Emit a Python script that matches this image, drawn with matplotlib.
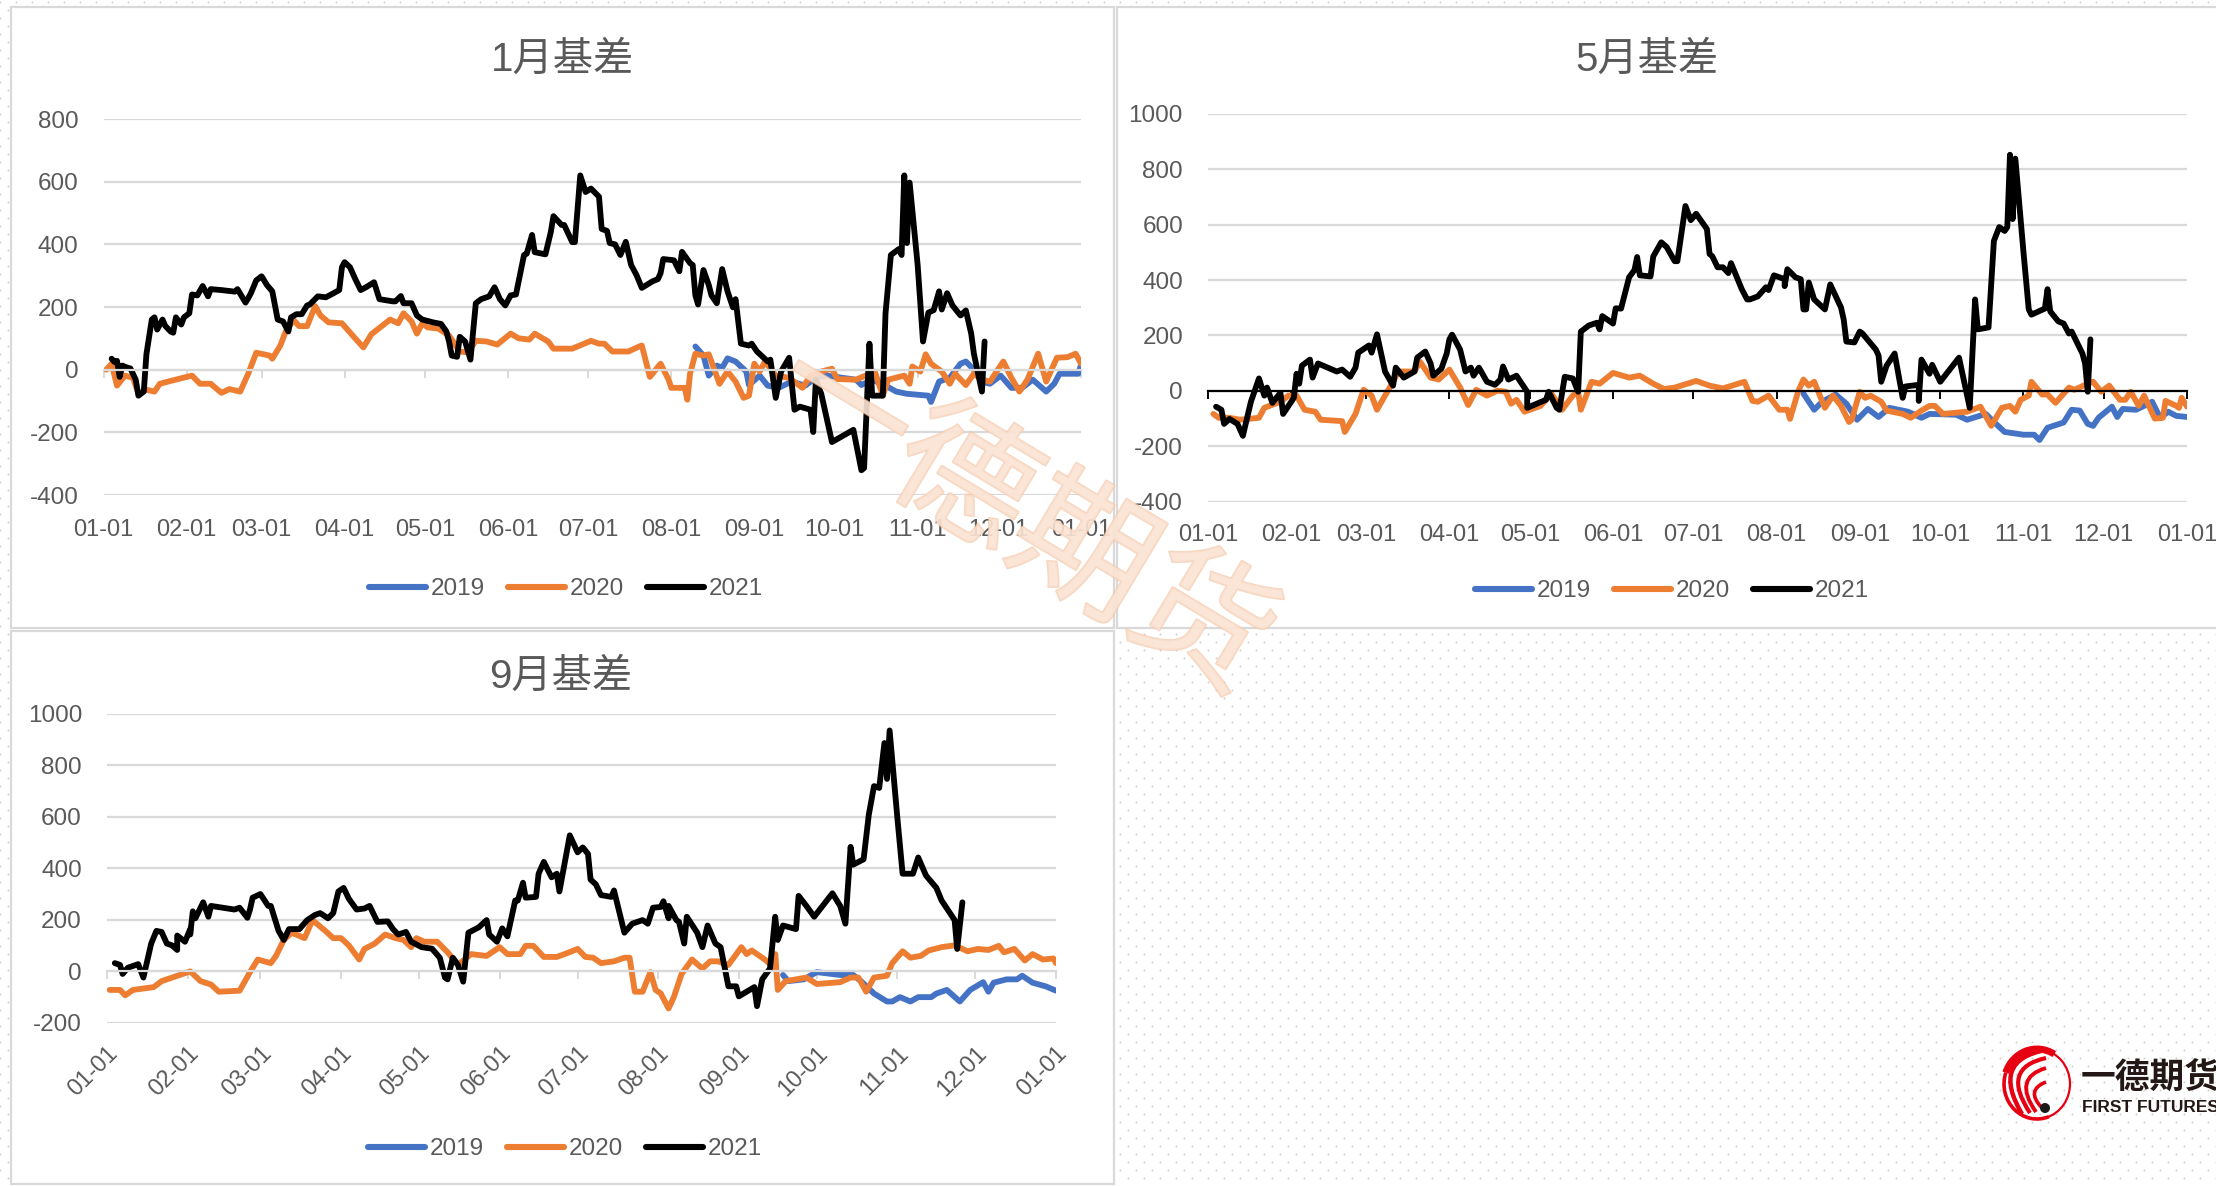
import numpy as np
import matplotlib
matplotlib.use('Agg')
import matplotlib.pyplot as plt
from matplotlib.patches import Rectangle, Circle, Arc, PathPatch
from matplotlib.path import Path
import matplotlib.patheffects as pe

plt.rcParams['font.family'] = ['Liberation Sans', 'Noto Sans CJK SC', 'DejaVu Sans']
plt.rcParams['axes.unicode_minus'] = False

W, H = 2216, 1186

month_days = [0, 31, 59, 90, 120, 151, 181, 212, 243, 273, 304, 334, 365]
month_labels = ['01-01', '02-01', '03-01', '04-01', '05-01', '06-01', '07-01', '08-01', '09-01', '10-01', '11-01', '12-01', '01-01']
years = ['2019', '2020', '2021']
colors = ['#4472c4', '#ed7d31', '#000000']

# ---- 1月基差 ----
d1_2021 = [3,4,5,6,7,9,10,12,13,15,16,18,19,20,22,23,25,26,27,29,30,32,33,35,37,39,40,44,49,50,53,54,55,57,59,61,63,65,67,69,70,72,74,76,77,80,83,85,88,89,90,92,94,96,98,101,103,108,109,111,112,115,117,119,123,126,128,129,130,132,133,135,137,139,141,144,146,148,150,152,154,157,158,160,161,165,167,168,171,172,175,176,178,180,182,185,186,188,189,191,193,195,197,199,201,205,207,208,209,213,215,216,219,220,221,222,224,226,227,229,231,233,235,236,238,241,242,244,248,249,251,253,256,258,260,264,265,266,268,272,280,283,284,286,287,291,292,294,297,298,299,300,301,304,306,308,310,312,313,315,317,320,322,324,325,328,329]
v1_2021 = [35,25,28,-23,13,6,4,-32,-83,-70,50,160,167,128,160,140,122,118,167,144,167,180,240,237,267,234,257,254,249,257,214,228,244,285,298,270,250,160,154,122,167,177,177,205,208,234,231,240,254,327,343,327,289,254,263,279,225,218,218,235,212,212,173,160,151,146,122,90,45,41,105,90,32,212,225,234,263,225,205,237,240,366,370,430,375,368,439,490,462,462,407,407,620,567,578,552,449,443,404,400,366,408,334,302,261,282,289,308,353,349,314,376,340,334,237,208,318,270,237,212,321,250,199,225,83,77,83,58,26,32,-90,-6,38,-128,-118,-128,-199,-32,-77,-231,-192,-321,-314,83,-83,-83,180,366,385,366,620,404,597,334,90,182,190,250,192,244,205,173,189,115,51,-70,90]
d1_2020 = [1,3,5,8,11,13,16,19,21,25,33,36,40,44,47,51,54,57,62,63,66,68,71,73,76,79,81,84,89,93,97,100,107,110,112,115,117,119,121,125,129,133,136,139,143,147,152,155,159,161,166,168,175,182,185,187,190,196,200,201,204,208,211,212,217,218,219,221,224,226,230,233,236,239,241,243,245,247,251,256,261,264,268,272,274,281,288,291,293,299,301,302,305,307,309,313,316,318,322,325,328,331,336,339,342,345,349,352,356,360,363,365]
v1_2020 = [0,19,-51,-19,-26,-77,-64,-70,-45,-36,-19,-45,-45,-74,-62,-70,-13,54,45,35,77,122,158,139,139,203,173,151,148,109,71,113,160,148,180,154,115,148,135,131,109,58,55,92,90,80,115,100,96,115,90,67,67,92,83,83,58,58,74,77,-23,19,-32,-58,-58,-96,-13,51,45,49,-45,-6,-38,-90,-83,19,-6,26,-19,-26,-58,-19,-6,3,-30,-32,-6,-83,-32,-19,-45,10,-6,49,19,-6,-45,-13,-49,-13,-32,-38,26,-26,-70,-32,51,-38,38,40,51,19]
d1_2019 = [221,224,226,229,231,233,236,240,241,245,248,252,257,262,266,270,281,283,287,292,296,300,308,309,312,316,320,322,325,328,331,335,339,343,347,352,355,357,364,365]
v1_2019 = [74,45,-19,13,6,36,26,-6,-49,-19,-51,-58,-38,-51,-26,-19,-32,-49,-32,-51,-70,-77,-83,-103,-38,-26,19,26,0,-38,-45,-19,-58,-58,-32,-70,-45,-13,-13,15]

# ---- 5月基差 ----
d5_2021 = [3,5,6,8,11,13,16,19,21,22,24,27,28,32,33,34,35,38,39,41,48,50,53,55,56,60,61,63,66,69,70,73,77,78,81,83,84,87,89,90,91,94,96,98,99,101,104,107,109,110,112,115,119,119,126,127,130,131,133,136,138,139,142,145,146,147,151,152,154,157,159,160,161,165,166,169,171,174,175,178,180,182,186,187,188,190,192,194,195,199,201,202,205,208,209,211,215,215,216,219,221,222,223,224,226,230,232,236,237,238,241,243,244,249,250,251,253,256,259,260,265,265,266,269,270,273,280,284,286,287,291,293,295,297,298,299,300,301,304,306,307,312,313,314,317,319,321,322,326,327,328,329]
v5_2021 = [-57,-68,-119,-101,-119,-162,-39,45,-17,12,-43,-7,-83,-25,62,26,91,113,48,99,70,77,51,84,138,164,138,204,70,19,84,48,70,120,142,99,55,80,135,186,203,149,70,84,55,84,33,22,41,88,41,55,-3,-61,-32,-3,-61,-68,51,45,-3,214,236,246,222,270,243,298,297,410,436,483,417,413,485,536,519,468,468,667,616,639,584,494,486,446,446,425,461,367,330,330,341,374,364,417,403,378,439,410,403,294,294,391,330,294,384,301,258,178,175,214,207,149,128,33,91,135,-25,16,22,-36,113,62,94,33,120,-61,330,222,229,541,591,577,591,852,620,838,504,294,275,297,367,287,251,243,207,214,135,99,-3,186]
d5_2020 = [2,4,8,12,19,21,27,30,33,36,40,42,50,51,55,58,61,63,66,69,71,77,79,83,86,90,94,97,100,104,108,111,113,115,118,124,128,132,136,138,139,143,146,151,157,161,166,170,174,182,187,192,200,203,205,209,213,216,217,220,222,224,226,230,233,236,239,240,243,245,247,251,253,259,262,266,269,271,274,283,288,292,296,299,301,303,306,307,311,313,316,321,323,328,330,333,336,340,342,344,347,349,353,356,357,361,362,363,365]
v5_2020 = [-83,-97,-97,-104,-97,-61,-39,-17,-17,-68,-75,-104,-109,-148,-83,4,-17,-68,-17,33,70,70,106,48,41,77,12,-51,4,-17,1,-3,-46,-32,-75,-54,-10,-68,-17,-3,-68,33,26,65,48,55,26,7,12,36,19,9,33,-36,-39,-17,-68,-68,-101,-3,41,19,33,-61,-17,-54,-112,-104,-3,-25,-17,-39,-71,-83,-97,-71,-54,-54,-83,-75,-57,-126,-61,-54,-75,-32,-17,33,-13,-13,-43,12,4,26,33,-3,19,-32,-32,-3,-54,-17,-100,-97,-36,-54,-61,-25,-57]
d5_2019 = [222,226,229,234,238,242,246,250,254,261,266,269,279,283,290,293,297,304,308,310,313,319,322,325,328,330,332,337,339,341,346,349,352,355,358,361,365]
v5_2019 = [-10,-68,-39,-13,-46,-104,-65,-94,-61,-75,-97,-83,-86,-104,-83,-112,-148,-158,-158,-177,-133,-114,-68,-71,-119,-126,-97,-57,-94,-65,-68,-54,-39,-97,-75,-90,-94]

# ---- 9月基差 ----
d9_2021 = [3,5,6,8,12,14,17,19,21,23,25,27,27,30,32,32,33,34,37,39,40,49,51,54,55,56,59,62,63,66,68,70,74,77,80,82,85,87,89,91,93,96,99,101,104,108,110,112,115,117,121,125,128,130,131,133,135,137,139,143,146,147,150,152,154,157,158,160,161,165,166,168,171,173,174,178,181,183,185,186,188,190,194,195,199,202,206,208,210,213,214,216,216,219,220,222,223,227,229,231,234,236,239,242,243,246,249,250,252,255,257,258,260,265,266,269,272,279,282,284,286,287,291,293,295,297,299,300,301,304,306,310,312,315,319,321,326,327,329]
v9_2021 = [32,25,-10,14,28,-24,108,157,153,108,101,83,139,115,164,143,233,206,268,212,254,240,247,208,240,286,300,254,254,157,122,164,164,199,219,226,206,226,310,324,282,240,244,254,192,194,164,143,153,115,94,88,53,-24,-31,53,25,-40,150,171,199,143,115,167,136,275,275,344,286,289,379,425,365,379,310,528,462,481,456,356,338,296,289,314,150,185,199,185,247,250,272,206,254,199,192,108,212,150,94,178,108,94,-58,-58,-97,-79,-61,-135,-31,11,212,122,178,164,293,254,212,303,254,185,483,414,435,608,719,712,886,747,935,594,379,379,442,372,324,275,199,87,268]
d9_2020 = [1,5,7,10,18,21,32,36,40,43,51,55,58,63,65,68,71,76,79,84,87,90,93,97,99,103,107,111,114,117,119,122,127,131,135,140,146,151,154,159,161,164,168,173,176,181,184,187,190,195,199,201,203,206,209,211,213,216,218,221,225,229,232,235,239,244,246,248,253,257,257,258,261,269,273,282,286,289,292,295,300,302,306,309,313,316,321,326,331,335,339,343,345,349,353,356,360,364,365]
v9_2020 = [-72,-72,-93,-72,-61,-38,0,-38,-51,-79,-75,-3,46,32,60,122,150,129,199,157,129,129,101,46,87,108,143,129,122,94,129,115,115,74,25,67,60,94,67,67,99,99,56,56,67,87,56,53,32,39,53,53,-79,-79,-3,-72,-86,-144,-100,-10,46,11,39,39,25,94,67,81,46,11,67,-72,-38,-24,-49,-42,-24,-24,-79,-24,-17,32,78,53,60,81,94,101,78,87,83,99,74,87,42,67,46,50,32]
d9_2019 = [260,262,268,273,282,287,290,295,300,302,305,309,312,317,319,323,328,332,337,339,341,346,350,352,356,361,365]
v9_2019 = [-14,-38,-31,-3,-14,-14,-38,-86,-117,-117,-100,-117,-100,-100,-86,-72,-117,-72,-42,-79,-44,-31,-31,-17,-44,-58,-75]


def px(x, y):
    return x / W, 1 - y / H


def add_chart(x0, x1, ytop, ybot, ylim, ystep, title, tx, ty, leg_x, leg_y, series, rot=0, pad=18, zero_color='#d9d9d9'):
    ax = fig.add_axes([x0 / W, 1 - ybot / H, (x1 - x0) / W, (ybot - ytop) / H], zorder=2)
    ax.patch.set_visible(False)
    ax.set_xlim(0, 365)
    ax.set_ylim(*ylim)
    ax.set_yticks(np.arange(ylim[0], ylim[1] + 1, ystep))
    ax.grid(axis='y', color='#d9d9d9', lw=1.6)
    ax.set_axisbelow(True)
    for s in ['top', 'left', 'right']:
        ax.spines[s].set_visible(False)
    ax.spines['bottom'].set_position(('data', 0))
    ax.spines['bottom'].set_color(zero_color)
    ax.spines['bottom'].set_linewidth(1.6)
    ax.set_xticks(month_days)
    ax.tick_params(axis='x', length=6, width=1.4, color=zero_color, labelbottom=False)
    ax.tick_params(axis='y', length=0, pad=18, labelsize=17.5, labelcolor='#595959')
    sec = ax.secondary_xaxis('bottom')
    sec.spines['bottom'].set_visible(False)
    sec.set_xticks(month_days)
    if rot:
        sec.set_xticklabels(month_labels, rotation=rot, ha='right', rotation_mode='anchor')
    else:
        sec.set_xticklabels(month_labels)
    sec.tick_params(axis='x', length=0, pad=pad, labelsize=17, labelcolor='#595959')
    for (d, v), c, y in zip(series, colors, years):
        ax.plot(d, v, color=c, lw=4.2, label=y, solid_joinstyle='round', solid_capstyle='round')
    leg = ax.legend(loc='center', bbox_to_anchor=px(leg_x, leg_y), bbox_transform=fig.transFigure, ncol=3,
                    frameon=False, fontsize=17.5, handlelength=2.35, handletextpad=0.2, columnspacing=0.95, labelcolor='#595959')
    for ln in leg.get_lines():
        ln.set_linewidth(4.4)
    fig.text(*px(tx, ty), title, ha='center', va='center', fontsize=29, color='#595959', zorder=3)
    return ax


fig = plt.figure(figsize=(W / 100, H / 100), dpi=100, facecolor='white')

# dotted page behind the panels
bg = fig.add_axes([0, 0, 1, 1], zorder=0)
bg.set_xlim(0, W)
bg.set_ylim(H, 0)
bg.axis('off')
gx, gy = np.meshgrid(np.arange(0, W, 16), np.arange(2, H, 16))
bg.scatter(gx.ravel(), gy.ravel(), s=2, c='#cfcfcf', lw=0)
bg.scatter(gx.ravel() + 8, gy.ravel() + 8, s=2, c='#cfcfcf', lw=0)
for x, y, w, h in [(11, 7, 1103, 621), (1117, 7, 1110, 621), (11, 631, 1103, 553)]:
    bg.add_patch(Rectangle((x, y), w, h, fc='white', ec='#d9d9d9', lw=1.6))

add_chart(103.6, 1081, 119, 495, (-400, 800), 200, '1月基差', 562, 60, 566, 589,
          [(d1_2019, v1_2019), (d1_2020, v1_2020), (d1_2021, v1_2021)], pad=17)
add_chart(1208, 2187, 113.7, 501.8, (-400, 1000), 200, '5月基差', 1647, 60, 1672, 591,
          [(d5_2019, v5_2019), (d5_2020, v5_2020), (d5_2021, v5_2021)], pad=16, zero_color='#000000')
add_chart(107, 1056, 713.7, 1022.9, (-200, 1000), 200, '9月基差', 561, 677, 565, 1149,
          [(d9_2019, v9_2019), (d9_2020, v9_2020), (d9_2021, v9_2021)], rot=45, pad=14)

# watermark and logo on top
top = fig.add_axes([0, 0, 1, 1], zorder=5)
top.set_xlim(0, W)
top.set_ylim(H, 0)
top.axis('off')
top.text(1021, 518, '一德期货', fontsize=100, rotation=-31, ha='center', va='center', color='#fbe3d3', alpha=0.7,
         family=['Noto Sans CJK SC'], rotation_mode='anchor',
         path_effects=[pe.withStroke(linewidth=1.6, foreground='#f4c7a8')])

red = '#e60012'
top.add_patch(Arc((2037, 1084), 66, 70, theta1=-80, theta2=75, color=red, lw=1.6))
for sx, sy, cx, cy, ex, ey, lw in [(2022, 1114, 1990, 1060, 2046, 1050, 3.2), (2030, 1113, 2000, 1068, 2046, 1058, 3),
                                   (2036, 1112, 2012, 1078, 2046, 1068, 2.8), (2042, 1108, 2025, 1090, 2046, 1082, 2.6)]:
    top.add_patch(PathPatch(Path([(sx, sy), (cx, cy), (ex, ey)], [Path.MOVETO, Path.CURVE3, Path.CURVE3]), fc='none', ec=red, lw=lw))
top.add_patch(Arc((2037, 1084), 66, 70, theta1=70, theta2=200, color=red, lw=2.6))
top.add_patch(Arc((2037, 1084), 66, 70, theta1=200, theta2=300, color=red, lw=5))
top.add_patch(Circle((2045, 1108), 5, fc='#1a1a1a', ec='none'))
top.text(2081, 1077, '一德期货', fontsize=25, fontweight='bold', color='#231815', va='center', ha='left',
         family=['Noto Sans CJK SC'])
top.text(2082, 1107, 'FIRST FUTURES', fontsize=12.5, fontweight='bold', color='#231815', va='center', ha='left')

fig.savefig('out.png', dpi=100)
